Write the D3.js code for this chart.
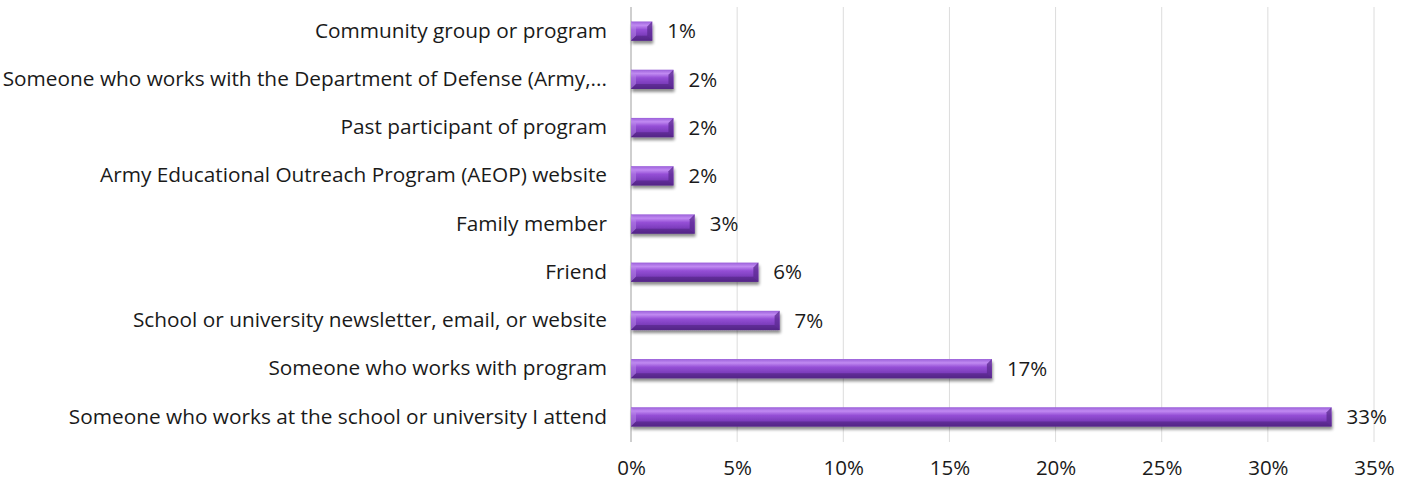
<!DOCTYPE html>
<html>
<head>
<meta charset="utf-8">
<script src="https://cdn.jsdelivr.net/npm/d3@7/dist/d3.min.js"></script>
<style>
  html, body { margin: 0; padding: 0; background: #ffffff; }
  svg { display: block; }
  text { font-family: "Open Sans", Lato, "Liberation Sans", sans-serif; fill: #1a1a1a; }
</style>
</head>
<body>
<svg id="chart" width="1410" height="483"></svg>
<script>
// Sources through which participants heard about the program (percent of respondents)
const categories = [
  "Community group or program",
  "Someone who works with the Department of Defense (Army,...",
  "Past participant of program",
  "Army Educational Outreach Program (AEOP) website",
  "Family member",
  "Friend",
  "School or university newsletter, email, or website",
  "Someone who works with program",
  "Someone who works at the school or university I attend"
];
const values = [1, 2, 2, 2, 3, 6, 7, 17, 33];
const valueLabels = ["1%", "2%", "2%", "2%", "3%", "6%", "7%", "17%", "33%"];
const xTicks = [0, 5, 10, 15, 20, 25, 30, 35];

const svg = d3.select("#chart");
const margin = { left: 631, right: 36, top: 7, bottom: 42 };
const width = 1410, height = 483;
const fontStack = "'Open Sans', Lato, sans-serif";

const x = d3.scaleLinear().domain([0, 35]).range([margin.left, width - margin.right]);
const y = d3.scaleBand().domain(categories).range([margin.top, height - margin.bottom]).paddingInner(0.6).paddingOuter(0.3);

// Gradient for the cylinder-like bar face
const defs = svg.append("defs");
const grad = defs.append("linearGradient").attr("id", "barGrad").attr("x1", 0).attr("y1", 0).attr("x2", 0).attr("y2", 1);
[[0, "#9a5fd9"], [0.2, "#c18af2"], [0.42, "#954fd6"], [0.72, "#7b3cbb"], [1, "#5a278f"]]
  .forEach(([o, c]) => grad.append("stop").attr("offset", o).attr("stop-color", c));
const shadow = defs.append("filter").attr("id", "shadow").attr("x", "-10%").attr("y", "-30%").attr("width", "130%").attr("height", "190%");
shadow.append("feGaussianBlur").attr("in", "SourceAlpha").attr("stdDeviation", 1.6);
shadow.append("feOffset").attr("dx", 1).attr("dy", 2.5).attr("result", "b");
shadow.append("feComponentTransfer").append("feFuncA").attr("type", "linear").attr("slope", 0.45);
const merge = shadow.append("feMerge");
merge.append("feMergeNode");
merge.append("feMergeNode").attr("in", "SourceGraphic");

// Vertical gridlines
svg.append("g")
  .selectAll("line")
  .data(xTicks)
  .join("line")
  .attr("x1", d => x(d)).attr("x2", d => x(d))
  .attr("y1", margin.top).attr("y2", height - margin.bottom + 1)
  .attr("stroke", d => d === 0 ? "#bfbfbf" : "#dcdcdc")
  .attr("stroke-width", d => d === 0 ? 1.5 : 1);

// X axis labels
const xAxis = d3.axisBottom(x).tickValues(xTicks).tickFormat(d => d + "%").tickSize(0).tickPadding(19);
const gx = svg.append("g").attr("transform", `translate(0,${height - margin.bottom})`).call(xAxis);
gx.select(".domain").remove();
gx.selectAll("text").style("font-size", "20.5px").style("font-family", fontStack).attr("fill", "#1a1a1a");

// Category labels
const gy = svg.append("g").attr("transform", `translate(${margin.left},0)`)
  .call(d3.axisLeft(y).tickSize(0).tickPadding(24));
gy.select(".domain").remove();
gy.selectAll("text").style("font-size", "20.8px").style("font-family", fontStack).attr("fill", "#1a1a1a");

// Bars
const bars = svg.append("g").selectAll("g.bar")
  .data(categories.map((c, i) => ({ c, v: values[i], label: valueLabels[i] })))
  .join("g").attr("class", "bar");

bars.append("rect")
  .attr("x", x(0))
  .attr("y", d => y(d.c))
  .attr("width", d => x(d.v) - x(0))
  .attr("height", y.bandwidth())
  .attr("fill", "url(#barGrad)")
  .attr("filter", "url(#shadow)");

// Beveled end caps
const bev = 5;
bars.append("path")
  .attr("d", d => {
    const x1 = x(d.v), y0 = y(d.c), h = y.bandwidth();
    return `M${x1},${y0} L${x1 - bev},${y0 + bev} L${x1 - bev},${y0 + h - bev} L${x1},${y0 + h} Z`;
  })
  .attr("fill", "#5b2a90").attr("opacity", 0.75);
bars.append("path")
  .attr("d", d => {
    const x0 = x(0), y0 = y(d.c), h = y.bandwidth();
    return `M${x0},${y0} L${x0 + bev},${y0 + bev} L${x0 + bev},${y0 + h - bev} L${x0},${y0 + h} Z`;
  })
  .attr("fill", "#b88ae8").attr("opacity", 0.5);
bars.append("path")
  .attr("d", d => {
    const x0 = x(0), x1 = x(d.v), y0 = y(d.c), h = y.bandwidth();
    return `M${x0},${y0 + h} L${x0 + bev},${y0 + h - bev} L${x1 - bev},${y0 + h - bev} L${x1},${y0 + h} Z`;
  })
  .attr("fill", "#4e2380").attr("opacity", 0.55);

// Value labels
bars.append("text")
  .attr("x", d => x(d.v) + 15)
  .attr("y", d => y(d.c) + y.bandwidth() / 2)
  .attr("dy", "0.35em")
  .style("font-size", "20.5px")
  .text(d => d.label);
</script>
</body>
</html>
